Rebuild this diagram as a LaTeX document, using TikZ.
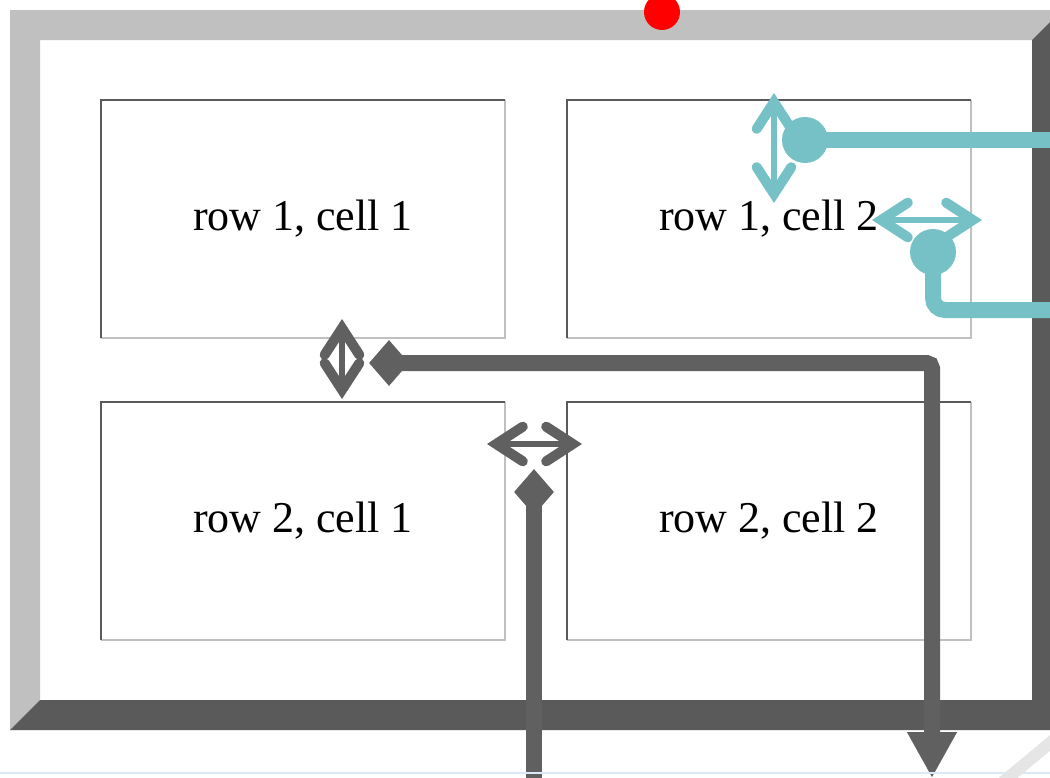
\documentclass[tikz,border=0pt]{standalone}
\usepackage{fontspec}
\setmainfont{Liberation Serif}
\usetikzlibrary{arrows.meta,shapes.geometric}
\definecolor{bevellight}{HTML}{C0C0C0}
\definecolor{beveldark}{HTML}{5A5A5A}
\definecolor{markgray}{HTML}{606060}
\definecolor{markcyan}{HTML}{76C1C6}
\definecolor{rulerblue}{HTML}{DCE8F8}
\tikzset{
  cellbox/.style={minimum width=303pt,minimum height=178.5pt,inner sep=0pt,
    font=\fontsize{33}{40}\selectfont},
  cellshade/.style={line width=1.5pt,bevellight},
  cellline/.style={line width=1.5pt,beveldark},
  barbtip/.tip={Straight Barb[length=20pt,width=26pt,line width=7.5pt,line cap=round]},
  barbs/.style={line width=5pt,{barbtip}-{barbtip}},
  leader/.style={line width=12pt},
  knob/.style={circle,fill,inner sep=0pt,minimum size=34.5pt},
  rhomb/.style={diamond,fill,inner sep=0pt,minimum width=30pt,minimum height=34.5pt},
}
\begin{document}
\begin{tikzpicture}[x=0.75pt,y=-0.75pt]
      \useasboundingbox (0,0) rectangle (1050,778);
      % outset border of the table
      \fill[bevellight] (10,10) -- (1062,10) -- (1032,40) -- (40,40) -- (40,700) -- (10,730) -- cycle;
      \fill[beveldark] (1062,10) -- (1062,730) -- (10,730) -- (40,700) -- (1032,700) -- (1032,40) -- cycle;
      \draw
        (303,219) node[cellbox] (c11){row 1, cell 1}
        (769,219) node[cellbox] (c12){row 1, cell 2}
        (303,521) node[cellbox] (c21){row 2, cell 1}
        (769,521) node[cellbox] (c22){row 2, cell 2};
      \foreach \c in {c11,c12,c21,c22}{
        \draw[cellshade] (\c.south west) -- (\c.south east) -- (\c.north east);
        \draw[cellline] (\c.south west) -- (\c.north west) -- (\c.north east);
      }
      % red pin on the top edge
      \node[knob,red,minimum size=27pt] (pin) at (662,12) {};
      % cyan marks
      \coordinate (v1a) at (774,93);
      \coordinate (v1b) at (774,203);
      \coordinate (h1a) at (872,220);
      \coordinate (h1b) at (982,220);
      \coordinate (k1out) at (1062,140);
      \coordinate (k2out) at (1062,310);
      \begin{scope}[markcyan]
        \draw[barbs] (v1a) -- (v1b);
        \draw[barbs] (h1a) -- (h1b);
        \node[knob] (k1) at (805,140) {};
        \node[knob] (k2) at (933,252) {};
        \draw[leader] (k1.center) -- (k1out);
        \draw[leader,rounded corners=9pt] (k2.center) |- (k2out);
      \end{scope}
      % gray marks
      \coordinate (v2a) at (342,319);
      \coordinate (v2b) at (342,399);
      \coordinate (h2a) at (487,444);
      \coordinate (h2b) at (582,444);
      \coordinate (r1out) at (932,778);
      \coordinate (r2out) at (534,790);
      \begin{scope}[markgray]
        \draw[barbs] (v2a) -- (v2b);
        \draw[barbs] (h2a) -- (h2b);
        \node[rhomb] (r1) at (389,363) {};
        \node[rhomb] (r2) at (534,492) {};
        \draw[leader,rounded corners=4pt,-{Triangle[length=34.5pt,width=35pt]}] (r1.center) -| (r1out);
        \draw[leader] (r2.center) -- (r2out);
      \end{scope}
      % faint marks along the bottom
      \draw[line width=1.5pt,rulerblue] (0,773) -- (1050,773);
      \draw[line width=9pt,gray!20] (1003,782) -- (1056,738);
    \end{tikzpicture}
\end{document}
